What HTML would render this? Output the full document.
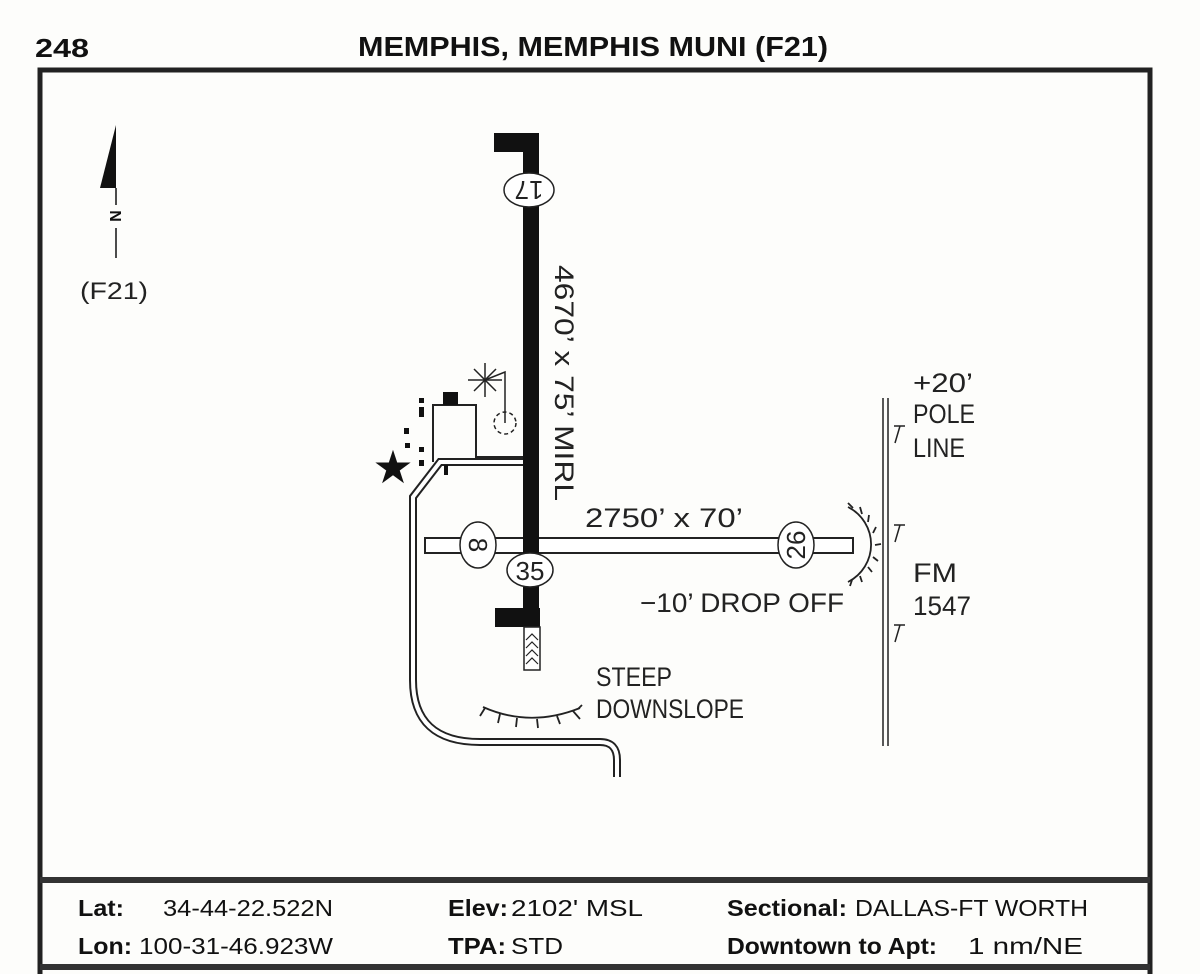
<!DOCTYPE html>
<html><head><meta charset="utf-8"><style>
body{margin:0;background:#fff;width:1200px;height:974px;overflow:hidden;font-family:"Liberation Sans",sans-serif}
</style></head><body>
<svg width="1200" height="974" viewBox="0 0 1200 974" xmlns="http://www.w3.org/2000/svg">
<rect width="1200" height="974" fill="#fdfdfb"/>
<text x="35" y="57" font-family="Liberation Sans" font-weight="bold" font-size="26" fill="#111" textLength="54" lengthAdjust="spacingAndGlyphs">248</text>
<text x="358" y="56" font-family="Liberation Sans" font-weight="bold" font-size="28" fill="#111" textLength="470" lengthAdjust="spacingAndGlyphs">MEMPHIS, MEMPHIS MUNI (F21)</text>
<!-- outer frame -->
<rect x="40" y="70" width="1110" height="920" fill="none" stroke="#222" stroke-width="5"/>
<rect x="40" y="877" width="1110" height="6" fill="#333"/>
<rect x="40" y="964" width="1110" height="6" fill="#333"/>
<!-- north arrow -->
<polygon points="116,125 116,188 100,188" fill="#111"/>
<line x1="116" y1="188" x2="116" y2="205" stroke="#111" stroke-width="1.5"/>
<text x="116" y="222" text-anchor="middle" font-size="16" font-weight="bold" fill="#111" transform="rotate(90 116 216)">N</text>
<line x1="116" y1="228" x2="116" y2="258" stroke="#111" stroke-width="1.5"/>
<text x="80" y="299" font-size="24" fill="#222" textLength="68" lengthAdjust="spacingAndGlyphs">(F21)</text>
<!-- taxiway double line -->
<path d="M523,462 L440,462 L413,497 L413,680 Q413,742 480,742 L600,742 Q617,742 617,760 L617,777" fill="none" stroke="#222" stroke-width="8"/>
<path d="M523,462 L440,462 L413,497 L413,680 Q413,742 480,742 L600,742 Q617,742 617,760 L617,779" fill="none" stroke="#fff" stroke-width="4"/>
<!-- building -->
<polyline points="433,462 433,405 476,405 476,457 523,457" fill="none" stroke="#222" stroke-width="2"/>
<rect x="443" y="392" width="15" height="13" fill="#111"/>
<rect x="444" y="465" width="4" height="10" fill="#111"/>
<!-- dots -->
<g fill="#111"><rect x="419" y="398" width="5" height="5"/><rect x="419" y="407" width="5" height="10"/><rect x="404" y="428" width="5" height="6"/><rect x="405" y="443" width="5" height="5"/><rect x="419" y="447" width="5" height="5"/><rect x="419" y="460" width="5" height="6"/></g>
<text x="393" y="483" text-anchor="middle" font-size="46" fill="#111" font-family="DejaVu Sans">★</text>
<!-- beacon -->
<g stroke="#222" stroke-width="1.5" fill="none">
<line x1="468" y1="380" x2="502" y2="380"/><line x1="485" y1="363" x2="485" y2="397"/>
<line x1="474" y1="369" x2="496" y2="391"/><line x1="474" y1="391" x2="496" y2="369"/>
<polyline points="485,380 505,372 505,423"/>
<circle cx="505" cy="423" r="11" stroke-dasharray="4,3"/>
</g>
<!-- horizontal runway -->
<rect x="425" y="538" width="428" height="15" fill="#fff" stroke="#222" stroke-width="2"/>
<!-- vertical runway -->
<rect x="523" y="140" width="16" height="485" fill="#111"/>
<rect x="494" y="133" width="45" height="19" fill="#111"/>
<rect x="495" y="608" width="45" height="19" fill="#111"/>
<rect x="524" y="627" width="16" height="43" fill="#fff" stroke="#222" stroke-width="1.5"/>
<g fill="none" stroke="#222" stroke-width="1.2">
<polyline points="526,640 532,634 538,640"/><polyline points="526,648 532,642 538,648"/><polyline points="526,656 532,650 538,656"/><polyline points="526,664 532,658 538,664"/>
</g>
<!-- runway number ellipses -->
<ellipse cx="529" cy="190" rx="25" ry="17" fill="#fff" stroke="#222" stroke-width="1.5"/>
<text x="529" y="199" text-anchor="middle" font-size="26" fill="#222" transform="rotate(180 529 190)">17</text>
<ellipse cx="478" cy="545" rx="18" ry="23" fill="#fff" stroke="#222" stroke-width="1.5"/>
<text x="478" y="554" text-anchor="middle" font-size="26" fill="#222" transform="rotate(90 478 545)">8</text>
<ellipse cx="796" cy="545" rx="18" ry="23" fill="#fff" stroke="#222" stroke-width="1.5"/>
<text x="796" y="554" text-anchor="middle" font-size="26" fill="#222" transform="rotate(-90 796 545)">26</text>
<ellipse cx="530" cy="570" rx="23" ry="17" fill="#fff" stroke="#222" stroke-width="1.5"/>
<text x="530" y="580" text-anchor="middle" font-size="26" fill="#222">35</text>
<!-- labels -->
<g font-size="27" fill="#222">
<text x="555" y="383" text-anchor="middle" transform="rotate(90 555 383)" textLength="236" lengthAdjust="spacingAndGlyphs">4670’ x 75’ MIRL</text>
<text x="585" y="527" textLength="158" lengthAdjust="spacingAndGlyphs">2750’ x 70’</text>
<text x="640" y="612" textLength="204" lengthAdjust="spacingAndGlyphs">−10’ DROP OFF</text>
<text x="596" y="686" textLength="76" lengthAdjust="spacingAndGlyphs">STEEP</text>
<text x="596" y="718" textLength="148" lengthAdjust="spacingAndGlyphs">DOWNSLOPE</text>
<text x="913" y="392" textLength="60" lengthAdjust="spacingAndGlyphs">+20’</text>
<text x="913" y="423" textLength="62" lengthAdjust="spacingAndGlyphs">POLE</text>
<text x="913" y="457" textLength="52" lengthAdjust="spacingAndGlyphs">LINE</text>
<text x="913" y="582" textLength="44" lengthAdjust="spacingAndGlyphs">FM</text>
<text x="913" y="615" textLength="58" lengthAdjust="spacingAndGlyphs">1547</text>
</g>
<!-- pole line -->
<line x1="883" y1="398" x2="883" y2="746" stroke="#222" stroke-width="1.5"/>
<line x1="888" y1="398" x2="888" y2="746" stroke="#222" stroke-width="1.5"/>
<g fill="none" stroke="#222" stroke-width="1.5">
<path d="M894,426 L905,426 M900,426 L895,443"/>
<path d="M894,525 L905,525 M900,525 L895,542"/>
<path d="M894,625 L905,625 M900,625 L895,642"/>
</g>
<g fill="none" stroke="#222" stroke-width="1.8">
<path d="M848,507 A42,42 0 0 1 848,582"/>
<path d="M853,508 L848,503 M862,514 L860,507 M868,522 L869,515 M873,533 L876,527 M875,545 L881,544 M873,557 L878,561 M868,567 L872,572 M860,576 L862,582 M852,580 L850,586"/>
<path d="M483,707 Q530,728 580,708"/>
<path d="M485,708 L480,716 M500,714 L498,723 M517,718 L516,727 M537,719 L538,728 M557,716 L560,724 M573,711 L580,719 M578,709 L582,705"/>
</g>
<!-- footer -->
<g font-size="23" fill="#111">
<text x="78" y="916" font-weight="bold" textLength="46" lengthAdjust="spacingAndGlyphs">Lat:</text>
<text x="163" y="916" textLength="170" lengthAdjust="spacingAndGlyphs">34-44-22.522N</text>
<text x="448" y="916" font-weight="bold" textLength="60" lengthAdjust="spacingAndGlyphs">Elev:</text>
<text x="511" y="916" textLength="132" lengthAdjust="spacingAndGlyphs">2102' MSL</text>
<text x="727" y="916" font-weight="bold" textLength="120" lengthAdjust="spacingAndGlyphs">Sectional:</text>
<text x="855" y="916" textLength="233" lengthAdjust="spacingAndGlyphs">DALLAS-FT WORTH</text>
<text x="78" y="954" font-weight="bold" textLength="54" lengthAdjust="spacingAndGlyphs">Lon:</text>
<text x="139" y="954" textLength="194" lengthAdjust="spacingAndGlyphs">100-31-46.923W</text>
<text x="448" y="954" font-weight="bold" textLength="58" lengthAdjust="spacingAndGlyphs">TPA:</text>
<text x="511" y="954" textLength="52" lengthAdjust="spacingAndGlyphs">STD</text>
<text x="727" y="954" font-weight="bold" textLength="210" lengthAdjust="spacingAndGlyphs">Downtown to Apt:</text>
<text x="968" y="954" textLength="115" lengthAdjust="spacingAndGlyphs">1 nm/NE</text>
</g>
</svg>
</body></html>
